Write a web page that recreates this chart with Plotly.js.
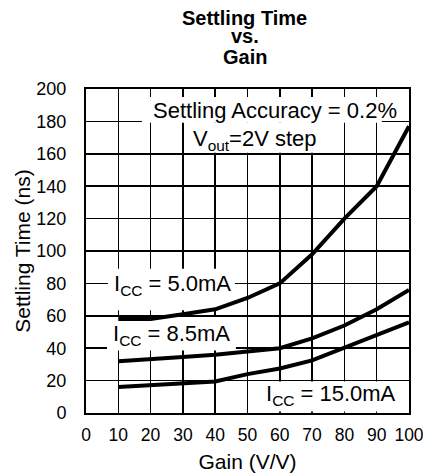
<!DOCTYPE html>
<html>
<head>
<meta charset="utf-8">
<script src="https://cdn.plot.ly/plotly-3.0.1.min.js"></script>
<style>
  html, body { margin: 0; padding: 0; background: #fff; }
  #chart { width: 423px; height: 476px; }
</style>
</head>
<body>
<div id="chart"></div>
<script>
// Gain (V/V) sample points
const gain = [10, 20, 30, 40, 50, 60, 70, 80, 90, 100];
// Settling time (ns) for each supply current
const settleIcc5 = [58, 58, 61, 64, 71, 80, 98, 120, 140, 177];
const settleIcc85 = [32, 33, 34.5, 36, 38, 40, 46, 54, 64, 76];
const settleIcc15 = [16, 17, 18, 19.5, 24, 27.5, 32.5, 40.5, 48, 56];

const xTickVals = [0, 10, 20, 30, 40, 50, 60, 70, 80, 90, 100];
const yTickVals = [0, 20, 40, 60, 80, 100, 120, 140, 160, 180, 200];

// heading, stacked on three lines
const titleLines = ['Settling Time', 'vs.', 'Gain'];

const FONT = 'Liberation Sans, Arial, Helvetica, sans-serif';

function curve(y) {
  return {
    x: gain, y: y, type: 'scatter', mode: 'lines',
    line: { color: '#000', width: 4, shape: 'linear' },
    hoverinfo: 'skip', showlegend: false
  };
}

const data = [curve(settleIcc5), curve(settleIcc85), curve(settleIcc15)];

// white label panels: above the grid, below the curves
function panel(x0, x1, y0, y1) {
  return { type: 'rect', xref: 'x', yref: 'y', x0: x0, x1: x1, y0: y0, y1: y1,
           fillcolor: '#fff', line: { width: 0 }, layer: 'between' };
}

function label(text, x, y) {
  return { text: text, x: x, y: y, xref: 'x', yref: 'y', xanchor: 'center', yanchor: 'middle',
           showarrow: false, font: { family: FONT, size: 22, color: '#000' } };
}

const titleY = [1.2195, 1.1638, 1.099];
const titleAnnotations = titleLines.map((t, i) => ({
  text: t, xref: 'paper', yref: 'paper', x: 0.492, y: titleY[i],
  xanchor: 'center', yanchor: 'middle', showarrow: false,
  font: { family: FONT, size: 20, color: '#000', weight: 'bold' }
}));

const layout = {
  width: 423, height: 476,
  margin: { l: 86, r: 14, t: 89, b: 63, pad: 0 },
  paper_bgcolor: '#fff', plot_bgcolor: '#fff',
  font: { family: FONT, color: '#000' },
  xaxis: {
    range: [0, 100], tickvals: xTickVals, ticktext: xTickVals.map(String),
    showgrid: true, gridcolor: '#000', gridwidth: 1.5,
    showline: true, linecolor: '#000', linewidth: 2, mirror: true,
    zeroline: false, ticks: '', ticklabelstandoff: 5, ticklabeloverflow: 'allow',
    tickfont: { family: FONT, size: 17.5, color: '#000' },
    title: { text: 'Gain (V/V)', font: { family: FONT, size: 21, color: '#000' }, standoff: 10 },
    fixedrange: true
  },
  yaxis: {
    range: [0, 200], tickvals: yTickVals, ticktext: yTickVals.map(String),
    showgrid: true, gridcolor: '#000', gridwidth: 1.5,
    showline: true, linecolor: '#000', linewidth: 2, mirror: true,
    zeroline: false, ticks: '', ticklabelstandoff: 14,
    tickfont: { family: FONT, size: 18, color: '#000' },
    title: { text: 'Settling Time (ns)', font: { family: FONT, size: 21, color: '#000' }, standoff: 0 },
    fixedrange: true
  },
  shapes: [
    panel(17.3, 91.6, 179.2, 195.1),
    panel(30.4, 74.6, 160.7, 179.2),
    panel(6.8, 46.1, 63.4, 89.0),
    panel(6.5, 46.4, 38.6, 59.3),
    panel(54.5, 98.8, 1.0, 19.5)
  ],
  annotations: titleAnnotations.concat([
    label('Settling Accuracy = 0.2%', 58.5, 186.5),
    label('V<sub>out</sub>=2V step', 52.2, 168.8),
    label('I<sub>CC</sub> = 5.0mA', 26.9, 79.1),
    label('I<sub>CC</sub> = 8.5mA', 26.5, 47.9),
    label('I<sub>CC</sub> = 15.0mA', 75.8, 11.1)
  ])
};

Plotly.newPlot('chart', data, layout, { displayModeBar: false, staticPlot: true });
</script>
</body>
</html>
